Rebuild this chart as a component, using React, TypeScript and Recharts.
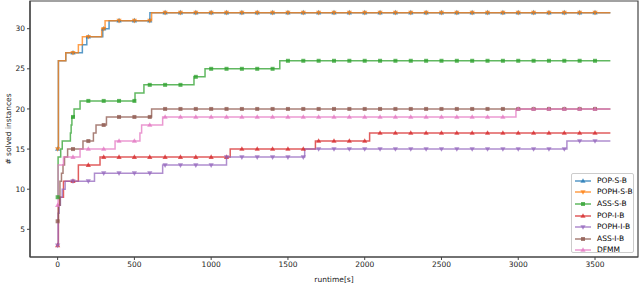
import React from 'react';
import { LineChart, Line, XAxis, YAxis, ReferenceArea, Legend, Label } from 'recharts';

const markerTimes = [0, 100, 200, 300, 400, 500, 600, 700, 800, 900, 1000, 1100, 1200, 1300, 1400, 1500, 1600, 1700, 1800, 1900, 2000, 2100, 2200, 2300, 2400, 2500, 2600, 2700, 2800, 2900, 3000, 3100, 3200, 3300, 3400, 3500];
const endTime = 3600;
const xTicks = [0, 500, 1000, 1500, 2000, 2500, 3000, 3500];
const yTicks = [5, 10, 15, 20, 25, 30];

const seriesNames = ['POP-S-B', 'POPH-S-B', 'ASS-S-B', 'POP-I-B', 'POPH-I-B', 'ASS-I-B', 'DFMM'];
const seriesColors = ['#1f77b4', '#ff7f0e', '#2ca02c', '#d62728', '#9467bd', '#8c564b', '#e377c2'];
const seriesMarkers = ['up', 'down', 'square', 'up', 'down', 'square', 'up'];

// step events: time at which the count of solved instances changes, and the new value
const popSBTimes = [0, 5, 53, 161, 190, 294, 335, 601];
const popSBValues = [15, 26, 27, 28, 29, 30, 31, 32];
const pophSBTimes = [0, 5, 53, 135, 161, 287, 309, 612];
const pophSBValues = [15, 26, 27, 28, 29, 30, 31, 32];
const assSBTimes = [0, 3, 20, 30, 83, 88, 93, 107, 146, 504, 562, 888, 960, 1447];
const assSBValues = [9, 14, 15, 16, 17, 18, 19, 20, 21, 22, 23, 24, 25, 26];
const popIBTimes = [0, 5, 12, 38, 135, 276, 1124, 1679, 2032];
const popIBValues = [3, 8, 9, 11, 13, 14, 15, 16, 17];
const pophIBTimes = [0, 3, 10, 18, 30, 49, 240, 684, 1100, 1609, 3317];
const pophIBValues = [3, 7, 8, 9, 10, 11, 12, 13, 14, 15, 16];
const assIBTimes = [0, 5, 15, 25, 35, 45, 65, 165, 233, 250, 318, 612];
const assIBValues = [6, 8, 11, 12, 13, 14, 15, 16, 17, 18, 19, 20];
const dfmmTimes = [0, 3, 38, 146, 374, 536, 547, 684, 2985];
const dfmmValues = [8, 13, 14, 15, 16, 17, 18, 19, 20];

const seriesTimes = [popSBTimes, pophSBTimes, assSBTimes, popIBTimes, pophIBTimes, assIBTimes, dfmmTimes];
const seriesValues = [popSBValues, pophSBValues, assSBValues, popIBValues, pophIBValues, assIBValues, dfmmValues];

function buildSteps(times: number[], values: number[]) {
  const mset = new Set(markerTimes);
  const all = Array.from(new Set([...times, ...markerTimes, endTime])).sort((a, b) => a - b);
  return all.map((t) => {
    let v = values[0];
    for (let i = 0; i < times.length; i++) if (times[i] <= t) v = values[i];
    return { t, v, m: mset.has(t) };
  });
}

const FONT = 'DejaVu Sans';

function MarkerShape({ shape, cx, cy, color }: any) {
  if (shape === 'square') {
    return <rect x={cx - 2} y={cy - 2} width={4} height={4} fill={color} fillOpacity={0.75} />;
  }
  if (shape === 'up') {
    return <polygon points={`${cx},${cy - 2.8} ${cx - 2.6},${cy + 1.8} ${cx + 2.6},${cy + 1.8}`} fill={color} fillOpacity={0.75} />;
  }
  return <polygon points={`${cx},${cy + 2.8} ${cx - 2.6},${cy - 1.8} ${cx + 2.6},${cy - 1.8}`} fill={color} fillOpacity={0.75} />;
}

function makeDot(shape: string, color: string) {
  return (p: any) => {
    if (!p || !p.payload || !p.payload.m || p.cx == null || p.cy == null) {
      return <g key={`e${p && p.index}`} />;
    }
    return (
      <g key={`d${p.index}`}>
        <MarkerShape shape={shape} cx={p.cx} cy={p.cy} color={color} />
      </g>
    );
  };
}

function LegendBox() {
  return (
    <div
      style={{
        width: 63,
        height: 80,
        boxSizing: 'border-box',
        border: '1px solid #cccccc',
        borderRadius: 2,
        background: 'rgba(255,255,255,0.8)',
        fontFamily: FONT,
        fontSize: 7.5,
        color: '#000',
        paddingTop: 1,
      }}
    >
      {seriesNames.map((name, i) => (
        <div key={name} style={{ display: 'flex', alignItems: 'center', height: 11.6 }}>
          <svg width={23} height={10} style={{ marginLeft: 2, flex: 'none' }}>
            <line x1={1} y1={5} x2={17} y2={5} stroke={seriesColors[i]} strokeWidth={1.5} strokeOpacity={0.75} />
            <MarkerShape shape={seriesMarkers[i]} cx={9} cy={5} color={seriesColors[i]} />
          </svg>
          <span style={{ whiteSpace: 'nowrap', lineHeight: '10px' }}>{name}</span>
        </div>
      ))}
    </div>
  );
}

export default function App() {
  const seriesData = seriesTimes.map((t, i) => buildSteps(t, seriesValues[i]));
  const tickStyle = { fontFamily: FONT, fontSize: 7.5, fill: '#222' };
  return (
    <div style={{ position: 'absolute', left: 0, top: 0, width: 640, height: 284, background: '#fff' }}>
      <LineChart width={640} height={284} margin={{ top: 1, right: 2, left: 0, bottom: 0 }}>
        <XAxis
          dataKey="t"
          type="number"
          domain={[-180, 3780]}
          ticks={xTicks}
          allowDataOverflow
          height={27}
          tickSize={3}
          tickMargin={2}
          tick={tickStyle}
          axisLine={{ stroke: '#444', strokeWidth: 1.2 }}
          tickLine={{ stroke: '#444' }}
        >
          <Label value="runtime[s]" position="insideBottom" offset={2} style={{ fontFamily: FONT, fontSize: 7.5, fill: '#222' }} />
        </XAxis>
        <YAxis
          type="number"
          domain={[1.55, 33.45]}
          ticks={yTicks}
          allowDataOverflow
          width={30}
          tickSize={3}
          tickMargin={2}
          tick={tickStyle}
          axisLine={{ stroke: '#444', strokeWidth: 1.2 }}
          tickLine={{ stroke: '#444' }}
        >
          <Label
            value="# solved instances"
            angle={-90}
            position="insideLeft"
            offset={8}
            style={{ fontFamily: FONT, fontSize: 7.5, fill: '#222', textAnchor: 'middle' }}
          />
        </YAxis>
        <ReferenceArea x1={-180} x2={3780} y1={1.55} y2={33.45} fill="none" stroke="#444" strokeWidth={1.2} ifOverflow="visible" />
        {seriesNames.map((name, i) => (
          <Line
            key={name}
            name={name}
            data={seriesData[i]}
            dataKey="v"
            type="stepAfter"
            stroke={seriesColors[i]}
            strokeOpacity={0.75}
            strokeWidth={1.5}
            dot={makeDot(seriesMarkers[i], seriesColors[i])}
            activeDot={false}
            isAnimationActive={false}
          />
        ))}
        <Legend
          layout="horizontal"
          verticalAlign="middle"
          align="center"
          content={() => <LegendBox />}
          wrapperStyle={{ left: 571, top: 173, width: 63, height: 80, right: 'auto', bottom: 'auto' }}
        />
      </LineChart>
    </div>
  );
}
